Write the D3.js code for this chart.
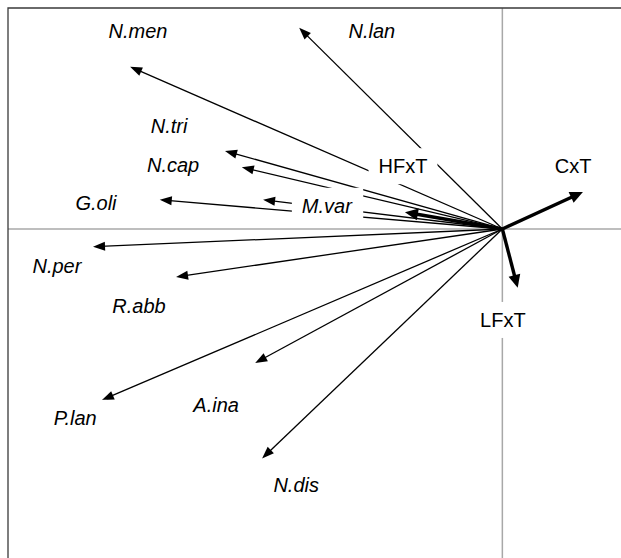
<!DOCTYPE html>
<html>
<head>
<meta charset="utf-8">
<script src="https://cdn.jsdelivr.net/npm/d3@7/dist/d3.min.js"></script>
<style>
  html, body { margin: 0; padding: 0; background: #fff; }
  svg { display: block; }
</style>
</head>
<body>
<script>
// Species scores (arrow tips) on the first two ordination axes
const speciesNames = ["N.men", "N.lan", "N.tri", "N.cap", "G.oli", "M.var",
                      "N.per", "R.abb", "P.lan", "A.ina", "N.dis"];
const speciesAxis1 = [-0.753, -0.411, -0.561, -0.527, -0.693, -0.484,
                      -0.828, -0.660, -0.810, -0.500, -0.486];
const speciesAxis2 = [0.328, 0.407, 0.158, 0.125, 0.059, 0.059,
                      -0.036, -0.097, -0.346, -0.271, -0.464];
// Species label anchors (label centres) in the same units
const speciesLabelAxis1 = [-0.737, -0.264, -0.674, -0.666, -0.822, -0.355,
                           -0.901, -0.735, -0.864, -0.579, -0.417];
const speciesLabelAxis2 = [0.400, 0.400, 0.208, 0.129, 0.053, 0.047,
                           -0.075, -0.156, -0.382, -0.356, -0.518];

// Explanatory variables (interaction terms)
const envNames = ["HFxT", "CxT", "LFxT"];
const envAxis1 = [-0.197, 0.163, 0.031];
const envAxis2 = [0.034, 0.075, -0.119];
const envLabelAxis1 = [-0.201, 0.143, 0.001];
const envLabelAxis2 = [0.127, 0.127, -0.184];

// Plot extent in score units
const xDomain = [-1.0, 0.24];
const yDomain = [-0.6655, 0.447];

const W = 621, H = 558;
const padLeft = 8, padTop = 8;

const svg = d3.select("body").append("svg")
  .attr("width", W).attr("height", H);

const x = d3.scaleLinear().domain(xDomain).range([padLeft, W]);
const y = d3.scaleLinear().domain(yDomain).range([H, padTop]);

// Zero lines through the origin
svg.append("line")
  .attr("x1", padLeft).attr("x2", W).attr("y1", y(0)).attr("y2", y(0))
  .attr("stroke", "#a8a8a8").attr("stroke-width", 1.5);
svg.append("line")
  .attr("x1", x(0)).attr("x2", x(0)).attr("y1", padTop).attr("y2", H)
  .attr("stroke", "#a8a8a8").attr("stroke-width", 1.5);

// Frame (top and left edges)
svg.append("path")
  .attr("d", `M${padLeft},${H} V${padTop} H${W}`)
  .attr("fill", "none").attr("stroke", "#3a3a3a").attr("stroke-width", 1.3);

const species = speciesNames.map((n, i) => ({
  name: n, ax1: speciesAxis1[i], ax2: speciesAxis2[i],
  lx: speciesLabelAxis1[i], ly: speciesLabelAxis2[i]
}));
const env = envNames.map((n, i) => ({
  name: n, ax1: envAxis1[i], ax2: envAxis2[i],
  lx: envLabelAxis1[i], ly: envLabelAxis2[i]
}));

// Arrow from origin to a score, with a filled triangular head
function drawArrow(g, d, width, headLen, headHalf) {
  const x0 = x(0), y0 = y(0);
  const x1 = x(d.ax1), y1 = y(d.ax2);
  const dx = x1 - x0, dy = y1 - y0;
  const len = Math.hypot(dx, dy);
  const ux = dx / len, uy = dy / len;
  const bx = x1 - ux * headLen, by = y1 - uy * headLen;
  g.append("line")
    .attr("x1", x0).attr("y1", y0)
    .attr("x2", x1 - ux * headLen * 0.6).attr("y2", y1 - uy * headLen * 0.6)
    .attr("stroke", "#000").attr("stroke-width", width);
  g.append("path")
    .attr("d", `M${x1},${y1} L${bx - uy * headHalf},${by + ux * headHalf} ` +
               `L${bx + uy * headHalf},${by - ux * headHalf} Z`)
    .attr("fill", "#000");
}

const arrows = svg.append("g");
species.forEach(d => drawArrow(arrows, d, 1.3, 12, 4.5));
env.forEach(d => drawArrow(arrows, d, 3.4, 13, 6));

// Labels on white boxes
const labels = svg.append("g")
  .style("font-family", "'Liberation Sans', Arial, sans-serif")
  .style("font-size", "20px");

function drawLabel(d, italic) {
  const g = labels.append("g");
  const rect = g.append("rect").attr("fill", "#fff");
  const t = g.append("text")
    .attr("x", x(d.lx)).attr("y", y(d.ly))
    .attr("dy", "0.35em")
    .attr("text-anchor", "middle")
    .attr("fill", "#000")
    .style("font-style", italic ? "italic" : "normal")
    .text(d.name);
  const b = t.node().getBBox();
  rect.attr("x", b.x - 10).attr("y", b.y - 7)
    .attr("width", b.width + 20).attr("height", b.height + 14);
}

species.forEach(d => drawLabel(d, true));
env.forEach(d => drawLabel(d, false));
</script>
</body>
</html>
